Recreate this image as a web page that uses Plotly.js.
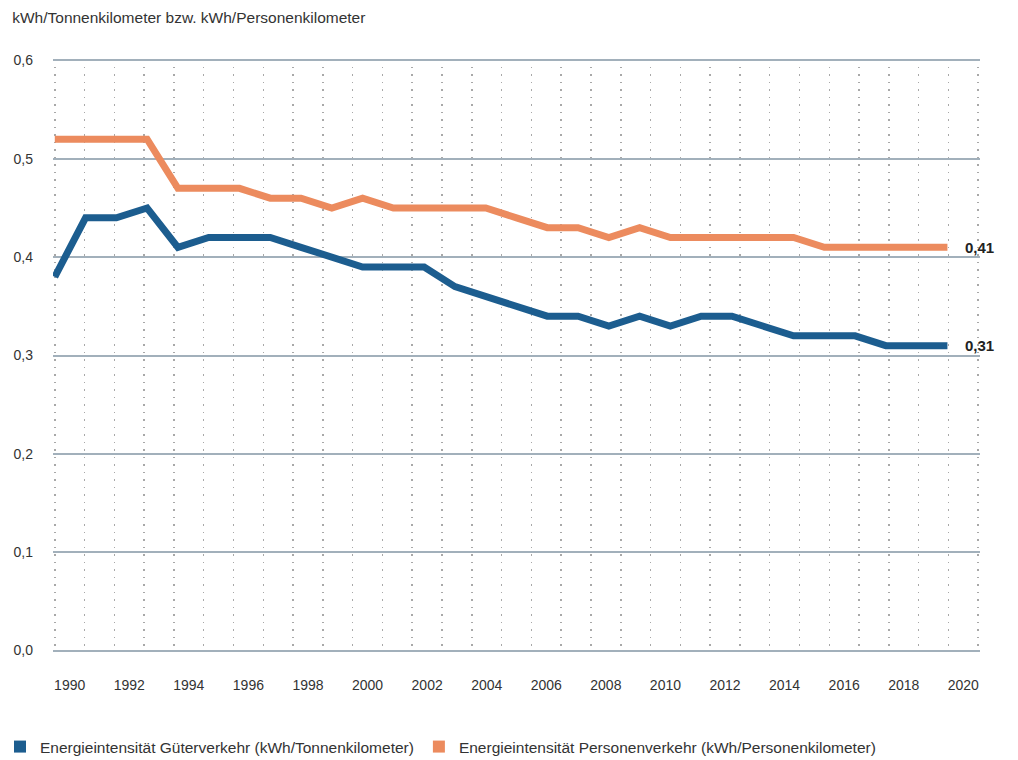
<!DOCTYPE html>
<html>
<head>
<meta charset="utf-8">
<script src="https://cdn.plot.ly/plotly-3.0.1.min.js"></script>
<style>html,body{margin:0;padding:0;background:#fff;}#chart{width:1018px;height:760px;}</style>
</head>
<body>
<div id="chart"></div>
<script>
// Data years (points) and values
const years = [1990, 1991, 1992, 1993, 1994, 1995, 1996, 1997, 1998, 1999,
               2000, 2001, 2002, 2003, 2004, 2005, 2006, 2007, 2008, 2009,
               2010, 2011, 2012, 2013, 2014, 2015, 2016, 2017, 2018, 2019];
const gueterverkehr = [0.38, 0.44, 0.44, 0.45, 0.41, 0.42, 0.42, 0.42, 0.41, 0.40,
                       0.39, 0.39, 0.39, 0.37, 0.36, 0.35, 0.34, 0.34, 0.33, 0.34,
                       0.33, 0.34, 0.34, 0.33, 0.32, 0.32, 0.32, 0.31, 0.31, 0.31];
const personenverkehr = [0.52, 0.52, 0.52, 0.52, 0.47, 0.47, 0.47, 0.46, 0.46, 0.45,
                         0.46, 0.45, 0.45, 0.45, 0.45, 0.44, 0.43, 0.43, 0.42, 0.43,
                         0.42, 0.42, 0.42, 0.42, 0.42, 0.41, 0.41, 0.41, 0.41, 0.41];
// Axis labels (category years shown on the axis)
const tickYears = [1990, 1992, 1994, 1996, 1998, 2000, 2002, 2004, 2006, 2008,
                   2010, 2012, 2014, 2016, 2018, 2020];
const seriesNames = ['Energieintensität Güterverkehr (kWh/Tonnenkilometer)',
                     'Energieintensität Personenverkehr (kWh/Personenkilometer)'];
const yTitle = 'kWh/Tonnenkilometer bzw. kWh/Personenkilometer';

const BLUE = '#1c5d8f';
const ORANGE = '#ec8b5e';
const FONT = 'Liberation Sans Narrow, Arial Narrow, Liberation Sans, sans-serif';
const EPS = 0.06;            // padding (in grid bands) so edge gridlines are drawn
const EPS_DATA = EPS * 30 / 31;

const traces = [
  {x: years, y: personenverkehr, type: 'scatter', mode: 'lines', name: seriesNames[1],
   line: {color: ORANGE, width: 7}, showlegend: false, xaxis: 'x', yaxis: 'y'},
  {x: years, y: gueterverkehr, type: 'scatter', mode: 'lines', name: seriesNames[0],
   line: {color: BLUE, width: 7}, showlegend: false, xaxis: 'x', yaxis: 'y'},
  // legend proxies
  {x: [null], y: [null], type: 'bar', name: seriesNames[0], marker: {color: BLUE}, showlegend: true},
  {x: [null], y: [null], type: 'bar', name: seriesNames[1], marker: {color: ORANGE}, showlegend: true},
  // carrier for label/grid axis
  {x: tickYears, y: tickYears.map(() => null), type: 'scatter', mode: 'lines', xaxis: 'x2', yaxis: 'y',
   showlegend: false, hoverinfo: 'skip'}
];

const lastIdx = years.length - 1;
const layout = {
  width: 1018, height: 760,
  paper_bgcolor: '#fff', plot_bgcolor: '#fff',
  separators: ',.',
  margin: {l: 53, r: 38, t: 59, b: 108},
  font: {family: FONT, size: 14, color: '#333'},
  title: {text: yTitle, x: 0.012, xref: 'container', xanchor: 'left',
          y: 1 - 18/760, yref: 'container', yanchor: 'middle',
          font: {family: FONT, size: 15.5, color: '#333'}},
  xaxis: {range: [1990 - EPS_DATA, 2020 + EPS_DATA], showgrid: false, zeroline: false, showticklabels: false,
          ticks: '', showline: false, fixedrange: true},
  xaxis2: {overlaying: 'x', range: [1990 - EPS, 2021 + EPS], side: 'bottom',
           tickmode: 'array', tickvals: tickYears.map(v => v + 0.5), ticktext: tickYears.map(String),
           showgrid: false, zeroline: false, ticks: '', showline: false,
           ticklabelstandoff: 23,
           tickfont: {family: FONT, size: 14, color: '#333'},
           minor: {tick0: 1990, dtick: 1, showgrid: true, gridcolor: '#a8a8a8', gridwidth: 1.5,
                   griddash: '1.5px,6px', ticks: ''}},
  yaxis: {range: [-0.0015, 0.6015], dtick: 0.1, tickformat: '.1f', showgrid: true,
          gridcolor: '#a2b0bb', gridwidth: 2, zeroline: true, zerolinecolor: '#a2b0bb', zerolinewidth: 2,
          ticks: '', ticklabelstandoff: 19,
          tickfont: {family: FONT, size: 14, color: '#333'}},
  legend: {orientation: 'h', xref: 'container', x: 0.0, xanchor: 'left',
           yref: 'container', y: 1 - 747/760, yanchor: 'middle',
           font: {family: FONT, size: 15.5, color: '#333'}, traceorder: 'normal'},
  annotations: [
    {x: years[lastIdx], y: personenverkehr[lastIdx], xref: 'x', yref: 'y',
     text: '<b>' + personenverkehr[lastIdx].toFixed(2).replace('.', ',') + '</b>',
     showarrow: false, xanchor: 'left', xshift: 16, font: {family: FONT, size: 15, color: '#222'}},
    {x: years[lastIdx], y: gueterverkehr[lastIdx], xref: 'x', yref: 'y',
     text: '<b>' + gueterverkehr[lastIdx].toFixed(2).replace('.', ',') + '</b>',
     showarrow: false, xanchor: 'left', xshift: 16, font: {family: FONT, size: 15, color: '#222'}}
  ]
};

Plotly.newPlot('chart', traces, layout, {displayModeBar: false, staticPlot: true});
</script>
</body>
</html>
